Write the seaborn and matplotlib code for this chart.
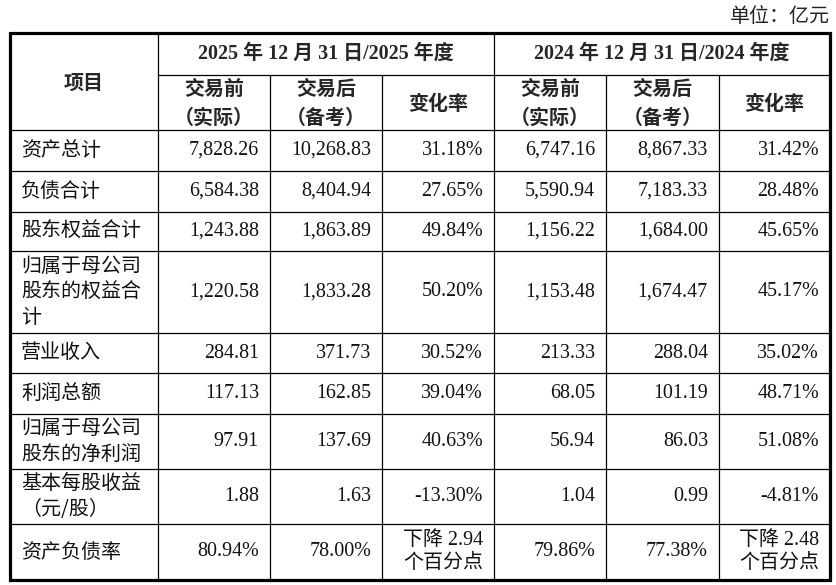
import matplotlib
matplotlib.use('Agg')
import matplotlib.pyplot as plt
import seaborn as sns

# table data (unit: 亿元)
unit_label = '单位：亿元'
year_headers = ['2025 年 12 月 31 日/2025 年度', '2024 年 12 月 31 日/2024 年度']
sub_headers = ['交易前\n（实际）', '交易后\n（备考）', '变化率']
first_col_header = '项目'
items = ['资产总计', '负债合计', '股东权益合计', '归属于母公司\n股东的权益合\n计',
         '营业收入', '利润总额', '归属于母公司\n股东的净利润', '基本每股收益\n（元/股）',
         '资产负债率']
before_2025 = ['7,828.26', '6,584.38', '1,243.88', '1,220.58', '284.81', '117.13',
               '97.91', '1.88', '80.94%']
after_2025 = ['10,268.83', '8,404.94', '1,863.89', '1,833.28', '371.73', '162.85',
              '137.69', '1.63', '78.00%']
change_2025 = ['31.18%', '27.65%', '49.84%', '50.20%', '30.52%', '39.04%',
               '40.63%', '-13.30%', '下降 2.94\n个百分点']
before_2024 = ['6,747.16', '5,590.94', '1,156.22', '1,153.48', '213.33', '68.05',
               '56.94', '1.04', '79.86%']
after_2024 = ['8,867.33', '7,183.33', '1,684.00', '1,674.47', '288.04', '101.19',
              '86.03', '0.99', '77.38%']
change_2024 = ['31.42%', '28.48%', '45.65%', '45.17%', '35.02%', '48.71%',
               '51.08%', '-4.81%', '下降 2.48\n个百分点']

sns.set_theme(style='white')
plt.rcParams['font.family'] = ['Liberation Serif', 'Noto Sans CJK SC', 'DejaVu Sans']

# layout in pixel coordinates
col_x = [10, 158, 270, 382, 494, 606, 719, 830]
top, mid, head_bot = 33, 75, 130
row_y = [130, 171, 212, 251, 333, 373, 414, 469, 524, 580]
fs = 14.4
mixed = ['Liberation Serif', 'Noto Sans CJK SC']
cjk = ['Noto Sans CJK SC', 'Liberation Serif']

fig = plt.figure(figsize=(8.37, 5.85), dpi=100)
ax = fig.add_axes([0, 0, 1, 1])
ax.set_xlim(0, 837)
ax.set_ylim(585, 0)
ax.axis('off')

thin = 0.9
thick = 2.3
# horizontal lines
ax.hlines(mid, col_x[1], col_x[-1], color='black', lw=thin)
for y in row_y[:-1]:
    ax.hlines(y, col_x[0], col_x[-1], color='black', lw=thin)
# vertical lines
ax.vlines([col_x[1], col_x[4]], top, row_y[-1], color='black', lw=thin)
ax.vlines([col_x[2], col_x[3], col_x[5], col_x[6]], mid, row_y[-1], color='black', lw=thin)
# outer border
ax.plot([col_x[0], col_x[-1], col_x[-1], col_x[0], col_x[0]],
        [top, top, row_y[-1], row_y[-1], top], color='black', lw=thick,
        solid_joinstyle='miter')

ax.text(col_x[-1], 17, unit_label, ha='right', va='center', fontsize=fs,
        family=cjk, color='#222222')

# header
ax.text((col_x[0] + col_x[1]) / 2, 82, first_col_header, ha='center', va='center',
        fontsize=fs, family=cjk, weight='bold')
for k, title in enumerate(year_headers):
    x0, x1 = col_x[1 + 3 * k], col_x[4 + 3 * k]
    ax.text((x0 + x1) / 2, 54, title, ha='center', va='center', fontsize=fs,
            family=mixed, weight='bold')
    for j, sub in enumerate(sub_headers):
        a, b = col_x[1 + 3 * k + j], col_x[2 + 3 * k + j]
        ax.text((a + b) / 2, 103, sub, ha='center', va='center', fontsize=fs,
                family=cjk, weight='bold', linespacing=1.45)

# body
columns = [before_2025, after_2025, change_2025, before_2024, after_2024, change_2024]
for i, name in enumerate(items):
    yc = (row_y[i] + row_y[i + 1]) / 2
    ax.text(col_x[0] + 11, yc, name, ha='left', va='center', fontsize=fs,
            family=cjk, linespacing=1.27, color='#111111')
    for j, col in enumerate(columns):
        ax.text(col_x[j + 2] - 11, yc, col[i], ha='right', va='center',
                fontsize=fs, family=mixed, linespacing=1.22, multialignment='right',
                color='#111111')

fig.savefig('out.png', dpi=100)
